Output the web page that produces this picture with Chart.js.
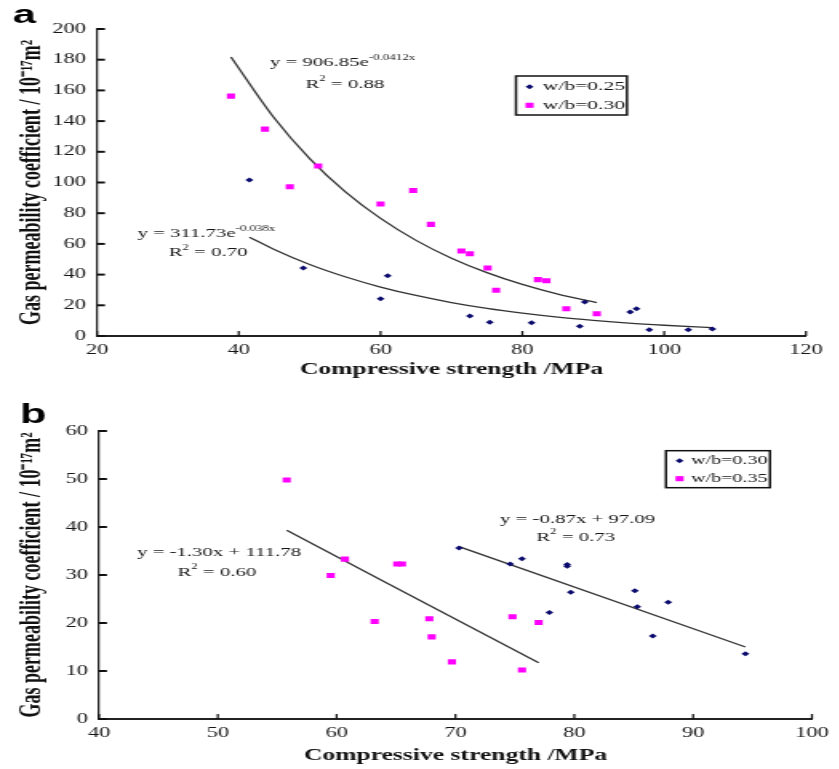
<!DOCTYPE html>
<html>
<head>
<meta charset="utf-8">
<title>Gas permeability vs compressive strength</title>
<script src="https://cdn.jsdelivr.net/npm/chart.js@4.4.1/dist/chart.umd.min.js"></script>
<style>
  body { margin: 0; background: #fff; width: 839px; height: 769px; overflow: hidden; position: relative; }
  /* the original figure is stretched sideways, so each panel is drawn narrow and widened */
  .panel { position: absolute; left: 0; width: 524px; transform: scaleX(1.6); transform-origin: 0 0; }
  #panelA { top: 0; height: 385px; }
  #panelB { top: 390px; height: 379px; }
</style>
</head>
<body>
<div class="panel" id="panelA"><canvas id="chartA"></canvas></div>
<div class="panel" id="panelB"><canvas id="chartB"></canvas></div>
<script>
// ---- panel a : w/b 0.25 and 0.30 ----
var strengthA25 = [41.5, 49.1, 60.0, 61.0, 72.6, 75.4, 81.3, 88.1, 88.8, 95.2, 96.1, 97.9, 103.4, 106.8];
var permA25     = [101.6, 44.3, 24.3, 39.3, 13.0, 8.9, 8.7, 6.3, 22.1, 15.6, 17.8, 4.1, 4.1, 4.6];
var strengthA30 = [38.9, 43.7, 47.2, 51.2, 60.0, 64.6, 67.1, 71.4, 72.6, 75.1, 76.3, 82.2, 83.4, 86.2, 90.5];
var permA30     = [156.3, 134.8, 97.2, 110.8, 86.0, 94.8, 72.7, 55.4, 53.6, 44.3, 29.8, 36.7, 36.0, 17.8, 14.5];
// fitted curves
var fitA30X = [38.9, 45, 50, 55, 60, 65, 70, 75, 80, 85, 90.5];
var fitA30Y = [181.8, 142.0, 115.6, 94.1, 76.6, 62.3, 50.7, 41.3, 33.6, 27.3, 21.8];
var fitA25X = [41.5, 45, 50, 55, 60, 65, 70, 75, 80, 85, 90, 95, 100, 106.8];
var fitA25Y = [64.4, 56.4, 46.6, 38.6, 31.9, 26.4, 21.8, 18.0, 14.9, 12.3, 10.2, 8.4, 7.0, 5.4];

// ---- panel b : w/b 0.30 and 0.35 ----
var strengthB30 = [70.3, 74.6, 75.6, 77.9, 79.4, 79.4, 79.7, 85.1, 85.3, 86.6, 87.9, 94.4];
var permB30     = [35.6, 32.3, 33.4, 22.2, 32.2, 31.8, 26.4, 26.7, 23.4, 17.3, 24.3, 13.6];
var strengthB35 = [55.8, 59.5, 60.7, 63.2, 65.1, 65.5, 67.8, 68.0, 69.7, 74.8, 75.6, 77.0];
var permB35     = [49.8, 29.9, 33.3, 20.3, 32.3, 32.3, 20.9, 17.1, 11.9, 21.3, 10.2, 20.1];
var fitB35X = [55.8, 77.0];
var fitB35Y = [39.3, 11.7];
var fitB30X = [70.3, 94.4];
var fitB30Y = [35.9, 15.0];

var SX = 1.6;
var NAVY = '#0b0b6e', PINK = '#ff00ff', LINE = '#333333', INK = '#161616';
var SERIF = "'Liberation Serif', 'Times New Roman', serif";
var Y_TITLE = 'Gas permeability coefficient / 10\u207B\u00B9\u2077m\u00B2';

Chart.defaults.font.family = SERIF;
Chart.defaults.color = INK;
Chart.defaults.animation = false;

function pts(xs, ys) {
  return xs.map(function (x, i) { return {x: x, y: ys[i]}; });
}

function navySet(label, xs, ys) {
  return {label: label, data: pts(xs, ys), showLine: false, pointStyle: 'rectRot', pointRadius: 2.5,
    pointBackgroundColor: NAVY, pointBorderColor: NAVY, pointBorderWidth: 0};
}
function pinkSet(label, xs, ys) {
  return {label: label, data: pts(xs, ys), showLine: false, pointStyle: 'rect', pointRadius: 3.6,
    pointBackgroundColor: PINK, pointBorderColor: PINK, pointBorderWidth: 0};
}
function fitSet(xs, ys) {
  return {label: 'fit', data: pts(xs, ys), showLine: true, pointRadius: 0, borderColor: LINE,
    borderWidth: 1.3, cubicInterpolationMode: 'monotone', fill: false};
}

// ticks point into the plot, so they are drawn here from the scale's own ticks
var inwardTicks = {
  id: 'inwardTicks',
  afterDatasetsDraw: function (chart) {
    var ctx = chart.ctx, xs = chart.scales.x, ys = chart.scales.y;
    ctx.save();
    ctx.strokeStyle = '#111';
    ctx.lineWidth = 1.25;
    xs.ticks.forEach(function (t) {
      var px = xs.getPixelForValue(t.value);
      ctx.beginPath(); ctx.moveTo(px, xs.top); ctx.lineTo(px, xs.top - 5); ctx.stroke();
    });
    ctx.lineWidth = 2;
    ys.ticks.forEach(function (t) {
      var py = ys.getPixelForValue(t.value);
      ctx.beginPath(); ctx.moveTo(ys.right, py); ctx.lineTo(ys.right + 5, py); ctx.stroke();
    });
    ctx.restore();
  }
};

function drawRich(ctx, x, y, parts, size) {
  var cx = x;
  parts.forEach(function (p) {
    var fs = p.sup ? size * 0.62 : size;
    ctx.font = fs + 'px ' + SERIF;
    ctx.fillText(p.t, cx, p.sup ? y - size * 0.38 : y);
    cx += ctx.measureText(p.t).width;
  });
}

function drawMarker(ctx, ds, x, y) {
  ctx.fillStyle = ds.pointBackgroundColor;
  ctx.beginPath();
  if (ds.pointStyle === 'rect') {
    var s = ds.pointRadius * Math.SQRT1_2;
    ctx.rect(x - s, y - s, 2 * s, 2 * s);
  } else {
    var r = ds.pointRadius;
    ctx.moveTo(x - r, y); ctx.lineTo(x, y - r); ctx.lineTo(x + r, y); ctx.lineTo(x, y + r); ctx.closePath();
  }
  ctx.fill();
}

// panel letter, legend box and the fit equations
var panelDecor = {
  id: 'panelDecor',
  afterDraw: function (chart, args, opts) {
    var ctx = chart.ctx, xs = chart.scales.x, ys = chart.scales.y;
    ctx.save();
    ctx.fillStyle = '#000';
    ctx.textBaseline = 'alphabetic';
    ctx.textAlign = 'left';
    ctx.font = 'bold ' + opts.letterSize + "px 'Liberation Sans', Arial, sans-serif";
    ctx.fillText(opts.letter, opts.letterPos[0], opts.letterPos[1]);

    var b = opts.legendBox;
    ctx.lineWidth = 1.5;
    ctx.strokeStyle = '#111';
    ctx.strokeRect(b.x, b.y, b.w, b.h);
    ctx.textBaseline = 'middle';
    ctx.font = b.fontSize + 'px ' + SERIF;
    [0, 1].forEach(function (i) {
      var ds = chart.data.datasets[i];
      var ry = b.y + b.row0 + i * b.rowGap;
      drawMarker(ctx, ds, b.x + b.markX, ry);
      ctx.fillStyle = INK;
      ctx.fillText(ds.label, b.x + b.textX, ry);
    });

    ctx.fillStyle = INK;
    opts.notes.forEach(function (n) {
      drawRich(ctx, xs.getPixelForValue(n.x), ys.getPixelForValue(n.y), n.parts, 13);
    });
    ctx.restore();
  }
};

function makeChart(id, cfg) {
  return new Chart(id, {
    type: 'scatter',
    data: {datasets: cfg.datasets},
    plugins: [inwardTicks, panelDecor],
    options: {
      responsive: true,
      maintainAspectRatio: false,
      events: [],
      layout: {padding: {top: cfg.padTop, right: cfg.padRight, left: 0, bottom: 0}},
      plugins: {
        legend: {display: false},
        tooltip: {enabled: false},
        panelDecor: cfg.decor
      },
      scales: {
        x: {
          type: 'linear', min: cfg.xMin, max: cfg.xMax,
          grid: {display: false, drawTicks: false},
          border: {display: true, color: '#222', width: 2},
          ticks: {stepSize: cfg.xStep, padding: 6, font: {size: 14}, color: INK},
          title: {display: true, text: 'Compressive strength /MPa', color: '#111',
            font: {size: 16, weight: 'bold'}, padding: {top: 0, bottom: cfg.xTitlePad}},
          afterFit: function (s) { s.height = cfg.xAxisH; }
        },
        y: {
          type: 'linear', min: cfg.yMin, max: cfg.yMax,
          grid: {display: false, drawTicks: false},
          border: {display: true, color: '#222', width: 1.25},
          ticks: {stepSize: cfg.yStep, padding: 7, font: {size: 14}, color: INK},
          title: {display: true, text: Y_TITLE, color: '#111',
            font: {size: 18, weight: 'bold'}, padding: {top: 9.5, bottom: 0}},
          afterFit: function (s) { s.width = cfg.yAxisW; }
        }
      }
    }
  });
}

makeChart('chartA', {
  datasets: [
    navySet('w/b=0.25', strengthA25, permA25),
    pinkSet('w/b=0.30', strengthA30, permA30),
    fitSet(fitA30X, fitA30Y),
    fitSet(fitA25X, fitA25Y)
  ],
  xMin: 20, xMax: 120, xStep: 20, yMin: 0, yMax: 200, yStep: 20,
  padTop: 29, padRight: 524 - 806 / SX, yAxisW: 97 / SX, xAxisH: 49, xTitlePad: 5.5,
  decor: {
    letter: 'a', letterSize: 26, letterPos: [8, 23],
    legendBox: {x: 516 / SX, y: 76, w: 111 / SX, h: 39, row0: 10.7, rowGap: 18.6, markX: 8.5, textX: 16.7, fontSize: 13.5},
    notes: [
      {x: 44.4, y: 178, parts: [{t: 'y = 906.85e'}, {t: '-0.0412x', sup: true}]},
      {x: 49.4, y: 164, parts: [{t: 'R'}, {t: '2', sup: true}, {t: ' = 0.88'}]},
      {x: 25.7, y: 66.4, parts: [{t: 'y = 311.73e'}, {t: '-0.038x', sup: true}]},
      {x: 30.1, y: 54.1, parts: [{t: 'R'}, {t: '2', sup: true}, {t: ' = 0.70'}]}
    ]
  }
});

makeChart('chartB', {
  datasets: [
    navySet('w/b=0.30', strengthB30, permB30),
    pinkSet('w/b=0.35', strengthB35, permB35),
    fitSet(fitB35X, fitB35Y),
    fitSet(fitB30X, fitB30Y)
  ],
  xMin: 40, xMax: 100, xStep: 10, yMin: 0, yMax: 60, yStep: 10,
  padTop: 41, padRight: 524 - 818 / SX, yAxisW: 99 / SX, xAxisH: 50, xTitlePad: 3.5,
  decor: {
    letter: 'b', letterSize: 27, letterPos: [12.5, 33],
    legendBox: {x: 666 / SX, y: 60.7, w: 104 / SX, h: 37, row0: 10, rowGap: 18, markX: 8.5, textX: 15.8, fontSize: 12.5},
    notes: [
      {x: 43.2, y: 34.6, parts: [{t: 'y = -1.30x + 111.78'}]},
      {x: 46.6, y: 30.6, parts: [{t: 'R'}, {t: '2', sup: true}, {t: ' = 0.60'}]},
      {x: 73.75, y: 41.6, parts: [{t: 'y = -0.87x + 97.09'}]},
      {x: 76.8, y: 37.9, parts: [{t: 'R'}, {t: '2', sup: true}, {t: ' = 0.73'}]}
    ]
  }
});
</script>
</body>
</html>
